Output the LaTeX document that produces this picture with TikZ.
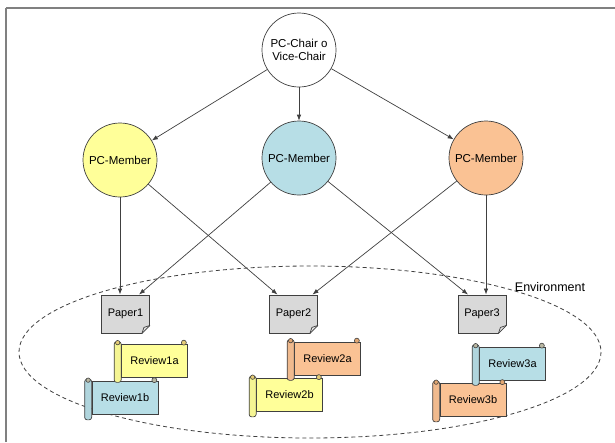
\documentclass[tikz,border=0pt]{standalone}
\usepackage{fontspec}
\setmainfont{Liberation Sans}
\usetikzlibrary{arrows.meta,positioning,calc}

\definecolor{memyellow}{RGB}{255,255,153}
\definecolor{memblue}{RGB}{183,222,230}
\definecolor{memorange}{RGB}{250,194,148}
\definecolor{papergray}{RGB}{217,217,217}
\definecolor{edgegray}{RGB}{64,64,64}

\begin{document}
\begin{tikzpicture}[x=1pt, y=-1pt, >={Latex[length=6pt,width=4.5pt]},
    role/.style={circle, draw=edgegray, line width=0.7pt, minimum size=74pt, inner sep=0pt,
      align=center, font=\fontsize{11.5}{13}\selectfont},
    paper/.style={rectangle, draw=edgegray, line width=0.9pt, fill=papergray,
      minimum width=48pt, minimum height=38pt, font=\fontsize{11}{12}\selectfont},
    review/.style={rectangle, draw=edgegray, line width=0.7pt, minimum width=66pt,
      minimum height=33pt, font=\fontsize{11}{12}\selectfont},
    link/.style={->, draw=edgegray, line width=0.7pt}]

      % Fixed frame
      \useasboundingbox (0,0) rectangle (615,442);
      \fill[white] (0,0) rectangle (615,442);
      \draw[gray, line width=1.3pt] (6,442) -- (6,8);
      \draw[gray, line width=1.3pt] (6,8) -- (615,8);

      % Environment
      \draw[edgegray, line width=0.8pt, dash pattern=on 4pt off 3pt]
        (310,352) ellipse [x radius=291, y radius=86];
      \node[font=\fontsize{12.5}{14}\selectfont] (env) at (550,287) {Environment};

      % Roles
      \node[role, fill=white] (chair) at (299,50) {PC-Chair o\\Vice-Chair};
      \node[role, fill=memyellow] (m1) at (120,160) {PC-Member};
      \node[role, fill=memblue]   (m2) at (299,158) {PC-Member};
      \node[role, fill=memorange] (m3) at (486,158) {PC-Member};

      % Papers
      \node[paper] (p1) at (125.5,314) {Paper1};
      \node[paper] (p2) at (293.5,314) {Paper2};
      \node[paper] (p3) at (482,314) {Paper3};
      \foreach \p in {p1,p2,p3} {
        \fill[white] ($(\p.south east)+(-8,0.5)$) -- ($(\p.south east)+(0.5,0.5)$) -- ($(\p.south east)+(0.5,-8)$) -- cycle;
        \draw[edgegray, line width=0.7pt, fill=papergray!70]
          ($(\p.south east)+(-8,0)$) -- ($(\p.south east)+(-6,-6)$) -- ($(\p.south east)+(0,-8)$);
        \draw[edgegray, line width=0.7pt] ($(\p.south east)+(-8,0)$) -- ($(\p.south east)+(0,-8)$);
      }

      % Reviews
      \node[review, fill=memyellow] (r1a) at (154.5,360.5) {Review1a};
      \node[review, fill=memblue]   (r1b) at (125,398) {Review1b};
      \node[review, fill=memorange] (r2a) at (327.5,358.5) {Review2a};
      \node[review, fill=memyellow] (r2b) at (289.5,395) {Review2b};
      \node[review, fill=memblue]   (r3a) at (512.5,363.5) {Review3a};
      \node[review, fill=memorange] (r3b) at (473,400) {Review3b};
      \foreach \r/\c in {r1a/memyellow,r1b/memblue,r2a/memorange,r2b/memyellow,r3a/memblue,r3b/memorange} {
        \draw[edgegray, line width=0.7pt, fill=\c!96!black, rounded corners=2.5pt]
          ($(\r.north west)+(-7,-2)$) rectangle ($(\r.south west)+(0,5)$);
        \draw[edgegray, line width=0.6pt, fill=\c!60!brown] ($(\r.north west)+(-3.5,-1)$) circle [radius=2.2pt];
        \draw[edgegray, line width=0.6pt, fill=\c!60!brown] ($(\r.north east)+(-4,-1)$) circle [radius=2.5pt];
      }

      % Links
      \draw[link] (chair) -- (m1);
      \draw[link] (chair) -- (m2);
      \draw[link] (chair) -- (m3);
      \draw[link] (m1) -- (m1 |- p1.north);
      \draw[link] (m1) -- ([xshift=-16pt]p2.north);
      \draw[link] (m2) -- ([xshift=13.5pt]p1.north);
      \draw[link] (m2) -- ([xshift=-14pt]p3.north);
      \draw[link] (m3) -- ([xshift=19pt]p2.north);
      \draw[link] (m3) -- (m3 |- p3.north);
    \end{tikzpicture}
\end{document}
